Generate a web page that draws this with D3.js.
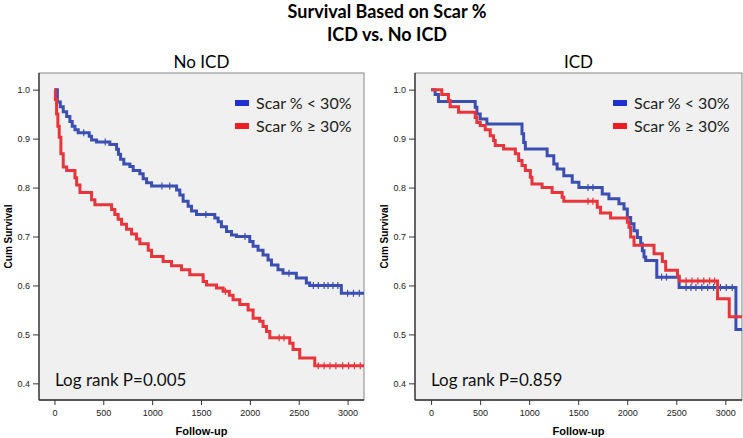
<!DOCTYPE html>
<html>
<head>
<meta charset="utf-8">
<script src="https://cdn.jsdelivr.net/npm/d3@7"></script>
<style>
  body { margin: 0; background: #fff; }
  svg { display: block; }
</style>
</head>
<body>
<div id="chart"></div>
<script>
// Kaplan-Meier steps [follow-up, cum survival]
var noIcdLow = [[0,1.0],[30,0.975],[60,0.965],[90,0.955],[125,0.945],[158,0.935],[182,0.925],[210,0.918],[243,0.912],
  [356,0.905],[380,0.897],[431,0.893],[567,0.888],[636,0.878],[655,0.868],[677,0.858],[710,0.848],[772,0.843],[806,0.835],
  [874,0.828],[908,0.818],[943,0.81],[994,0.803],[1250,0.795],[1283,0.785],[1317,0.772],[1368,0.762],[1403,0.752],[1454,0.745],
  [1641,0.738],[1675,0.73],[1709,0.72],[1761,0.71],[1812,0.703],[1863,0.70],[1999,0.69],[2033,0.68],[2084,0.672],[2135,0.662],
  [2186,0.652],[2221,0.642],[2288,0.632],[2339,0.625],[2476,0.615],[2578,0.605],[2612,0.600],[2936,0.584],[3200,0.584]];
var noIcdHigh = [[0,1.0],[10,0.98],[22,0.95],[35,0.925],[49,0.903],[66,0.869],[90,0.842],[125,0.835],[210,0.82],[227,0.805],
  [261,0.79],[380,0.775],[414,0.765],[585,0.755],[618,0.745],[652,0.735],[687,0.725],[738,0.715],[789,0.705],[840,0.695],
  [874,0.685],[960,0.672],[994,0.659],[1112,0.649],[1198,0.640],[1300,0.632],[1385,0.622],[1522,0.608],[1556,0.601],[1658,0.595],
  [1726,0.588],[1790,0.58],[1828,0.571],[1897,0.561],[1982,0.550],[2033,0.533],[2101,0.527],[2135,0.516],[2170,0.506],[2204,0.493],
  [2408,0.482],[2442,0.469],[2510,0.452],[2664,0.436],[3200,0.436]];
var icdLow = [[0,1.0],[41,0.99],[75,0.976],[450,0.964],[467,0.95],[501,0.94],[569,0.93],[927,0.91],[944,0.892],[961,0.879],
  [1183,0.865],[1251,0.848],[1285,0.838],[1353,0.824],[1439,0.811],[1507,0.80],[1745,0.787],[1813,0.777],[1915,0.767],[1967,0.756],
  [2001,0.739],[2035,0.726],[2069,0.712],[2103,0.698],[2137,0.685],[2154,0.671],[2171,0.658],[2188,0.651],[2301,0.617],[2529,0.596],
  [3108,0.51],[3200,0.51]];
var icdHigh = [[0,1.0],[109,0.99],[177,0.978],[194,0.965],[280,0.954],[450,0.943],[467,0.933],[501,0.927],[552,0.918],[603,0.906],
  [637,0.896],[654,0.886],[739,0.879],[859,0.869],[893,0.855],[927,0.845],[961,0.835],[1012,0.821],[1029,0.807],[1132,0.80],
  [1234,0.79],[1336,0.78],[1353,0.772],[1694,0.76],[1728,0.748],[1830,0.738],[2001,0.729],[2018,0.719],[2035,0.699],[2069,0.682],
  [2273,0.665],[2358,0.649],[2392,0.631],[2512,0.619],[2529,0.609],[2921,0.573],[3040,0.536],[3200,0.536]];

// censored times (the little + marks)
var noIcdLowCens = [300, 520, 1100, 1180, 1550, 1950, 2400, 2650, 2700, 2760, 2800, 2850, 2900, 3000, 3060, 3120];
var noIcdHighCens = [1750, 2300, 2350, 2700, 2760, 2820, 2880, 2950, 3010, 3070, 3130];
var icdLowCens = [1600, 1650, 2350, 2400, 2600, 2650, 2700, 2760, 2820, 2880, 2950, 3010, 3070];
var icdHighCens = [1600, 1650, 2600, 2660, 2720, 2780, 2840, 2890];

var xTicks = [0, 500, 1000, 1500, 2000, 2500, 3000];
var yTicks = [0.4, 0.5, 0.6, 0.7, 0.8, 0.9, 1.0];
var legendLabels = ["Scar % < 30%", "Scar % \u2265 30%"];
var lineColors = ["#3b4fb3", "#e8343a"];
var swatchColors = ["#1f30d0", "#f01c24"];

var svg = d3.select("#chart").append("svg")
    .attr("width", 743)
    .attr("height", 438);

// main title
svg.append("text").attr("x", 387).attr("y", 18)
    .attr("text-anchor", "middle")
    .style("font-family", "Lato, sans-serif").style("font-weight", "bold").style("font-size", "18px")
    .text("Survival Based on Scar %");
svg.append("text").attr("x", 387).attr("y", 41)
    .attr("text-anchor", "middle")
    .style("font-family", "Lato, sans-serif").style("font-weight", "bold").style("font-size", "18px")
    .text("ICD vs. No ICD");

function panel(id, title, left, right, xDom, series, cens, pText) {
    var top = 73, bottom = 400;
    var x = d3.scaleLinear().domain(xDom).range([left, right]);
    var y = d3.scaleLinear().domain([0.366, 1.034]).range([bottom, top]);

    var g = svg.append("g");

    g.append("rect")
        .attr("x", left).attr("y", top)
        .attr("width", right - left).attr("height", bottom - top)
        .attr("fill", "#f0f0f0")
        .attr("stroke", "#888").attr("stroke-width", 1);

    svg.append("clipPath").attr("id", id)
      .append("rect").attr("x", left).attr("y", top - 5)
        .attr("width", right - left).attr("height", bottom - top + 5);

    // panel title
    g.append("text").attr("x", (left + right) / 2).attr("y", 68)
        .attr("text-anchor", "middle")
        .style("font-family", "Lato, sans-serif").style("font-size", "17px")
        .text(title);

    // axes
    var xAxis = g.append("g")
        .attr("transform", "translate(0," + bottom + ")")
        .call(d3.axisBottom(x).tickValues(xTicks).tickFormat(d3.format("d")).tickSize(5).tickSizeOuter(0));
    var yAxis = g.append("g")
        .attr("transform", "translate(" + left + ",0)")
        .call(d3.axisLeft(y).tickValues(yTicks).tickFormat(d3.format(".1f")).tickSize(6).tickSizeOuter(0));
    [xAxis, yAxis].forEach(function(a) {
        a.select(".domain").attr("stroke", "#333").attr("stroke-width", 1.3);
        a.selectAll(".tick line").attr("stroke", "#333");
        a.selectAll("text")
            .style("font-family", "'Liberation Sans', Arial, sans-serif")
            .style("font-size", "9px").attr("fill", "#222");
    });
    xAxis.selectAll("text").attr("dy", "0.9em");
    xAxis.select(".domain").attr("d", "M" + left + ",0H" + right);
    yAxis.select(".domain").attr("d", "M0," + top + "V" + bottom);

    g.append("text").attr("x", (left + right) / 2).attr("y", 435)
        .attr("text-anchor", "middle")
        .style("font-family", "'Liberation Sans', Arial, sans-serif").style("font-weight", "bold").style("font-size", "11px")
        .text("Follow-up");
    g.append("text")
        .attr("transform", "translate(" + (left - 27) + "," + ((top + bottom) / 2) + ") rotate(-90)")
        .attr("text-anchor", "middle")
        .style("font-family", "'Liberation Sans', Arial, sans-serif").style("font-weight", "bold").style("font-size", "10px")
        .text("Cum Survival");

    var line = d3.line()
        .x(function(d) { return x(d[0]); })
        .y(function(d) { return y(d[1]); })
        .curve(d3.curveStepAfter);

    var plot = g.append("g").attr("clip-path", "url(#" + id + ")");
    series.forEach(function(s, i) {
        plot.append("path")
            .datum(s)
            .attr("fill", "none")
            .attr("stroke", lineColors[i])
            .attr("stroke-width", 3);

        // censor ticks sit on the step value at that time
        var bis = d3.bisector(function(d) { return d[0]; }).right;
        plot.selectAll(null)
            .data(cens[i])
            .enter()
            .append("line")
            .attr("x1", function(t) { return x(t); })
            .attr("x2", function(t) { return x(t); })
            .attr("y1", function(t) { return y(s[bis(s, t) - 1][1]) - 3.5; })
            .attr("y2", function(t) { return y(s[bis(s, t) - 1][1]) + 3.5; })
            .attr("stroke", lineColors[i])
            .attr("stroke-width", 1.2);
    });
    plot.selectAll("path").attr("d", line);

    // legend
    var lx = right - 129;
    legendLabels.forEach(function(lab, i) {
        var ly = 103 + i * 23;
        g.append("rect")
            .attr("x", lx).attr("y", ly - 3)
            .attr("width", 14).attr("height", 6)
            .attr("fill", swatchColors[i]);
        g.append("text")
            .attr("x", lx + 21).attr("y", ly + 6)
            .style("font-family", "Lato, sans-serif").style("font-size", "16px")
            .attr("fill", "#222")
            .text(lab);
    });

    g.append("text")
        .attr("x", left + 16).attr("y", 386)
        .style("font-family", "Lato, sans-serif").style("font-size", "17px")
        .attr("fill", "#111")
        .text(pText);
}

panel("clipL", "No ICD", 39, 364, [-158, 3168], [noIcdLow, noIcdHigh], [noIcdLowCens, noIcdHighCens], "Log rank P=0.005");
panel("clipR", "ICD", 415, 742, [-164, 3170], [icdLow, icdHigh], [icdLowCens, icdHighCens], "Log rank P=0.859");
</script>
</body>
</html>
